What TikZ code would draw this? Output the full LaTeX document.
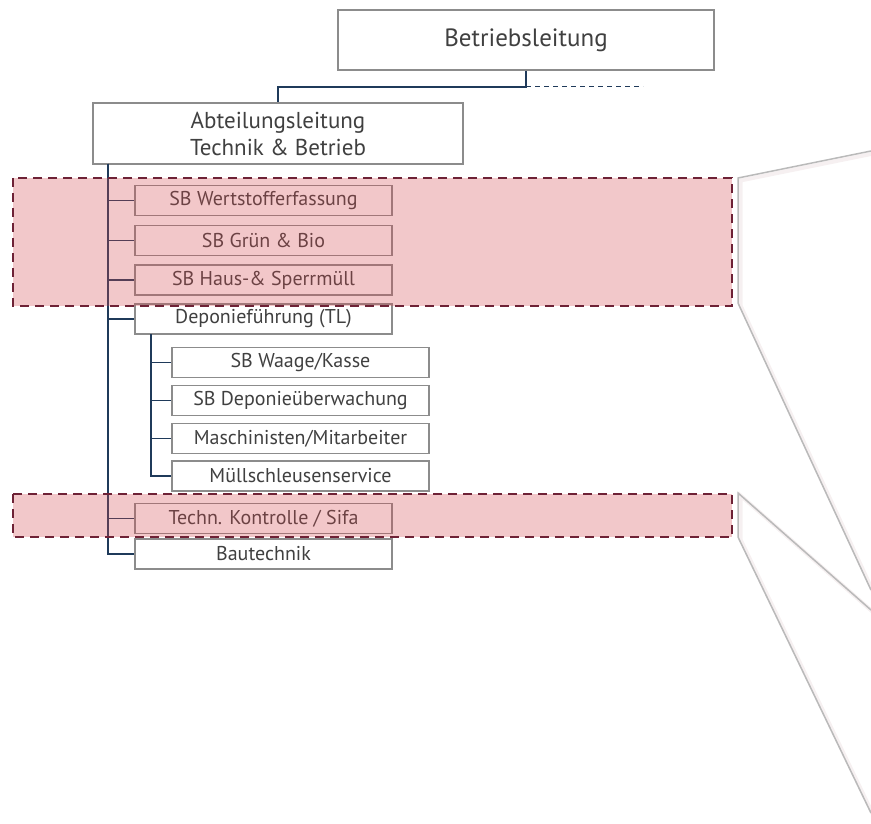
\documentclass[tikz,border=0pt]{standalone}
\usepackage{fontspec}
\setmainfont{PT Sans}
\definecolor{conn}{HTML}{1F3A5A}
\definecolor{boxgray}{HTML}{8C8C8C}
\definecolor{txt}{HTML}{404040}
\definecolor{pinkov}{RGB}{212,72,78}
\definecolor{maroon}{HTML}{6E2236}
\definecolor{zoomgray}{HTML}{BABABA}
\definecolor{shadowpink}{HTML}{EDE2E3}
\tikzset{
  bigbox/.style={draw=boxgray, line width=2pt, fill=white, text=txt, inner sep=0pt, minimum width=#1, minimum height=60pt, align=center},
  smallbox/.style={draw=boxgray, line width=1.2pt, fill=white, text=txt, inner sep=0pt, minimum width=257pt, minimum height=30pt, font=\fontsize{20}{24}\selectfont},
  link/.style={draw=conn, line width=1.1pt},
  highlight/.style={fill=pinkov, fill opacity=0.3, draw=none},
  hlborder/.style={draw=maroon, line width=2.4pt, dash pattern=on 9pt off 6pt},
  zoomline/.style={draw=zoomgray, line width=1.5pt, line join=miter},
  zoomshadow/.style={draw=shadowpink, line width=4pt, opacity=0.5}
}
\begin{document}
\begin{tikzpicture}[x=1pt,y=-1pt]
\useasboundingbox (0,0) rectangle (871,824);
% top boxes
\node[bigbox=376pt, font=\fontsize{25}{29}\selectfont] (betr) at (526,40) {Betriebsleitung};
\node[bigbox=370pt, minimum height=61pt, font=\fontsize{23}{27}\selectfont] (abt) at (278,133.5) {Abteilungsleitung\\Technik \& Betrieb};
% level 1
\node[smallbox] (wert) at (263.5,200.7) {SB Wertstofferfassung};
\node[smallbox] (gruen) at (263.5,240.5) {SB Grün \& Bio};
\node[smallbox] (haus) at (263.5,280) {SB Haus-\& Sperrmüll};
\node[smallbox] (dep) at (263.5,319) {Deponieführung (TL)};
\node[smallbox] (tech) at (263.5,518.3) {Techn. Kontrolle / Sifa};
\node[smallbox] (bau) at (263.5,554) {Bautechnik};
% level 2
\node[smallbox] (waage) at (300.5,362.3) {SB Waage/Kasse};
\node[smallbox] (ueber) at (300.5,400.7) {SB Deponieüberwachung};
\node[smallbox] (masch) at (300.5,438.3) {Maschinisten/Mitarbeiter};
\node[smallbox] (muell) at (300.5,476) {Müllschleusenservice};
% connectors
\coordinate (junc) at (526,87);
\coordinate (dashend) at (643,87);
\draw[link] (betr.south) -- (junc) -| (abt.north);
\draw[conn, line width=1pt, dash pattern=on 5pt off 4pt] (junc) -- (dashend);
\coordinate (trunk) at (108,164);
\coordinate (subtrunk) at (151,334);
\draw[link] (trunk) |- (bau.west);
\foreach \n in {wert,gruen,haus,dep,tech}{\draw[link] (trunk) |- (\n.west);}
\draw[link] (subtrunk) |- (muell.west);
\foreach \n in {waage,ueber,masch}{\draw[link] (subtrunk) |- (\n.west);}
% highlight areas
\coordinate (h1a) at (13,178); \coordinate (h1b) at (732,306);
\coordinate (h2a) at (13,494); \coordinate (h2b) at (732,537);
\fill[highlight] (h1a) rectangle (h1b);
\fill[highlight] (h2a) rectangle (h2b);
\draw[hlborder] (h1a) rectangle (h1b);
\draw[hlborder] (h2a) rectangle (h2b);
% zoom lines
\coordinate (z1a) at (871,151); \coordinate (z1b) at (738,178); \coordinate (z1c) at (738,303); \coordinate (z1d) at (871,590);
\coordinate (z2a) at (871,610); \coordinate (z2b) at (738,493); \coordinate (z2c) at (738,537); \coordinate (z2d) at (871,813);
\draw[zoomshadow] ([shift={(2.5,2.5)}]z1a) -- ([shift={(2.5,2.5)}]z1b) -- ([shift={(2.5,2.5)}]z1c) -- ([shift={(2.5,2.5)}]z1d);
\draw[zoomshadow] ([shift={(2.5,2.5)}]z2a) -- ([shift={(2.5,2.5)}]z2b) -- ([shift={(2.5,2.5)}]z2c) -- ([shift={(2.5,2.5)}]z2d);
\draw[zoomline] (z1a) -- (z1b) -- (z1c) -- (z1d);
\draw[zoomline] (z2a) -- (z2b) -- (z2c) -- (z2d);
\end{tikzpicture}
\end{document}
